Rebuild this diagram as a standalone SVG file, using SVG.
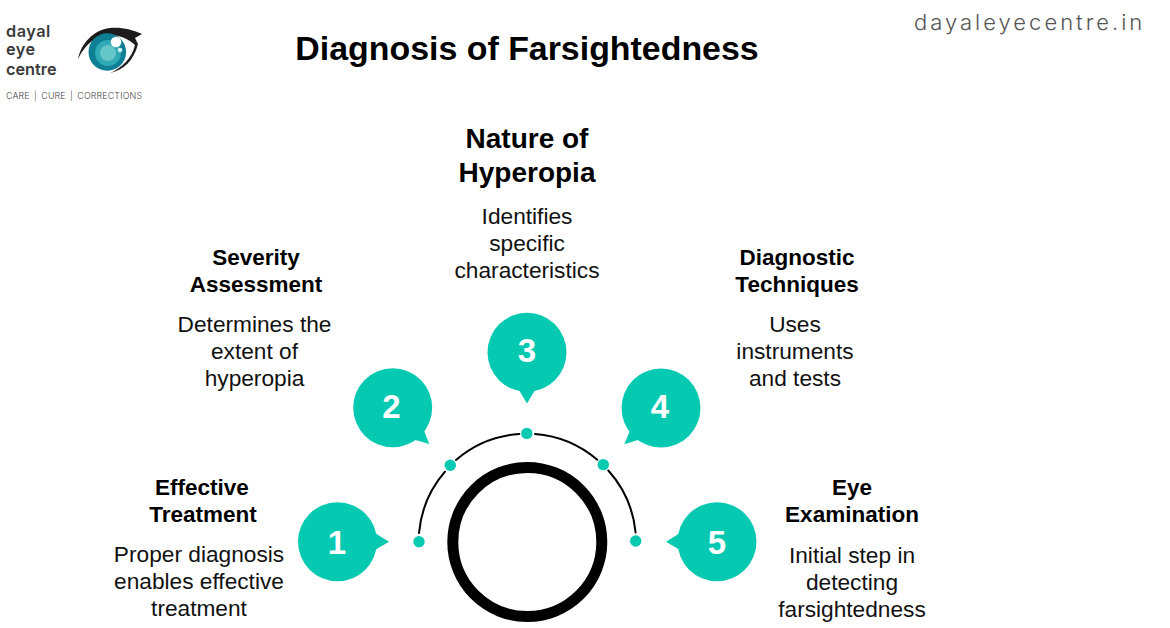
<svg xmlns="http://www.w3.org/2000/svg" width="1170" height="628" viewBox="0 0 1170 628">
<style>
.h{font-family:"Liberation Sans",Arial,sans-serif;font-weight:700;fill:#000;text-anchor:middle}
.b{font-family:"Liberation Sans",Arial,sans-serif;font-size:22.700px;fill:#111;text-anchor:middle}
.s{font-size:22.500px}
.n{font-family:"Liberation Sans",Arial,sans-serif;font-weight:700;font-size:33px;fill:#fff;text-anchor:middle}
.bub,.dot{fill:#06c9b2}
.logo{font-family:Inter,"Liberation Sans",sans-serif;font-weight:600;font-size:16.300px;fill:#3a3a3a}
</style>
<rect width="1170" height="628" fill="#fff"/>
<g id="logo">
<text class="logo" x="6" y="37" letter-spacing="0.5">dayal</text>
<text class="logo" x="6" y="55" letter-spacing="0.5">eye</text>
<text class="logo" x="6" y="74.500">centre</text>
<text x="6" y="99" font-family="Inter,'Liberation Sans',sans-serif" font-size="8.800" font-weight="300" word-spacing="1.600" letter-spacing="0.200" fill="#444">CARE | CURE | CORRECTIONS</text>
<path d="M78 59C81 44 93 30 110 28C122 27 133 30 142 34L135 38L138 44C134 60 124 70 110 73C122 68 132 58 135 45C126 36 112 33 101 36C90 40 83 49 78 59Z" fill="#1c1c1c"/>
<circle cx="107.300" cy="52" r="18.800" fill="#0f7f96"/>
<circle cx="108" cy="53" r="13" fill="#2fa9b4"/>
<circle cx="108" cy="53" r="8" fill="#66c7c8"/>
<circle cx="116" cy="42" r="5.300" fill="#fff"/>
<circle cx="120" cy="50" r="2.300" fill="#d5f2f2"/>
</g>
<text id="site" x="914" y="30" font-family="Inter,'Liberation Sans',sans-serif" font-size="22" font-weight="300" letter-spacing="3" fill="#555">dayaleyecentre.in</text>
<text id="title" class="h" x="527" y="60" font-size="33.900">Diagnosis of Farsightedness</text>
<circle id="ring" cx="527.300" cy="542" r="74.500" fill="none" stroke="#000" stroke-width="11"/>
<g id="connectors" fill="none" stroke="#000" stroke-width="2" stroke-linecap="round">
<path d="M419 533A108.300 108.300 0 0 1 445 471.700"/>
<path d="M456 460A108.300 108.300 0 0 1 519.300 434"/>
<path d="M535 434A108.300 108.300 0 0 1 597.300 459.800"/>
<path d="M608.300 470.500A108.300 108.300 0 0 1 635.600 532.500"/>
</g>
<g id="dots">
<circle class="dot" cx="419" cy="541.700" r="5.700"/>
<circle class="dot" cx="450.300" cy="465.200" r="5.700"/>
<circle class="dot" cx="526.800" cy="433.400" r="5.700"/>
<circle class="dot" cx="603.300" cy="464.600" r="5.700"/>
<circle class="dot" cx="635.700" cy="541" r="5.700"/>
</g>
<g id="node1">
<circle class="bub" cx="337.500" cy="541.700" r="39.500"/><path class="bub" d="M375 533L389 541.700L375 550Z"/>
<text class="n" x="337" y="554">1</text>
<text class="h s" x="202" y="495">Effective</text><text class="h s" x="203" y="522">Treatment</text>
<text class="b" x="199" y="562">Proper diagnosis</text><text class="b" x="199" y="589">enables effective</text><text class="b" x="199" y="616">treatment</text>
</g>
<g id="node2">
<circle class="bub" cx="392.700" cy="407.700" r="39.500"/><path class="bub" d="M423 428L429.300 444L412 439Z"/>
<text class="n" x="391.500" y="418">2</text>
<text class="h s" x="256" y="265">Severity</text><text class="h s" x="256" y="292">Assessment</text>
<text class="b" x="254.500" y="332">Determines the</text><text class="b" x="254.500" y="359">extent of</text><text class="b" x="254.500" y="386">hyperopia</text>
</g>
<g id="node3">
<circle class="bub" cx="527" cy="352.300" r="39.500"/><path class="bub" d="M519 390L527 403.500L535 390Z"/>
<text class="n" x="527" y="362">3</text>
<text class="h" x="527" y="148" font-size="28">Nature of</text><text class="h" x="527" y="182" font-size="28">Hyperopia</text>
<text class="b" x="527" y="224">Identifies</text><text class="b" x="527" y="251">specific</text><text class="b" x="527" y="278">characteristics</text>
</g>
<g id="node4">
<circle class="bub" cx="661" cy="408" r="39.500"/><path class="bub" d="M631 428L624.300 444.300L641 439Z"/>
<text class="n" x="660" y="418">4</text>
<text class="h s" x="797" y="265">Diagnostic</text><text class="h s" x="797" y="292">Techniques</text>
<text class="b" x="795" y="332">Uses</text><text class="b" x="795" y="359">instruments</text><text class="b" x="795" y="386">and tests</text>
</g>
<g id="node5">
<circle class="bub" cx="717" cy="541.700" r="39.500"/><path class="bub" d="M680 533L666 541.700L680 550Z"/>
<text class="n" x="717" y="554">5</text>
<text class="h s" x="852" y="495">Eye</text><text class="h s" x="852" y="522">Examination</text>
<text class="b" x="852" y="563">Initial step in</text><text class="b" x="852" y="590">detecting</text><text class="b" x="852" y="617">farsightedness</text>
</g>
</svg>
